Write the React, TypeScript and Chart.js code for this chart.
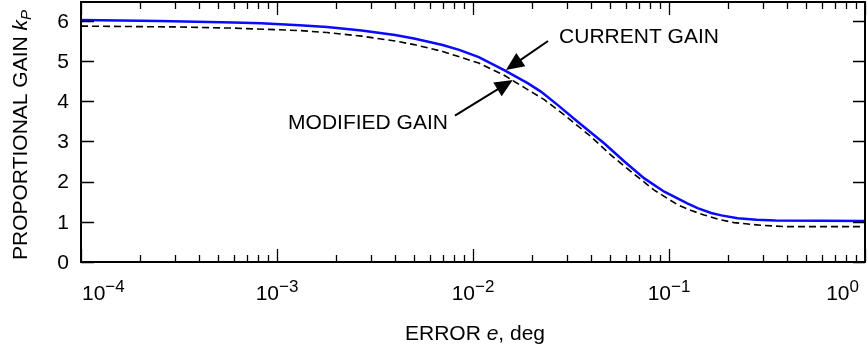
import React, { useEffect, useRef } from 'react';
import { Chart, registerables } from 'chart.js';

Chart.register(...registerables);

// ---- data ----
const currentErr = [1e-4, 2.5e-4, 6e-4, 8.3e-4, 1.3e-3, 1.8e-3, 2.7e-3, 4e-3, 5e-3, 7e-3, 8.5e-3, 1.07e-2, 1.45e-2, 1.9e-2, 2.22e-2, 2.7e-2, 3.42e-2, 4.68e-2, 5.92e-2, 7.48e-2, 9.46e-2, 1.24e-1, 1.4e-1, 1.64e-1, 1.85e-1, 2.24e-1, 2.8e-1, 3.5e-1, 1];
const currentGain = [6.02, 6.0, 5.96, 5.94, 5.89, 5.85, 5.76, 5.65, 5.56, 5.4, 5.28, 5.1, 4.77, 4.45, 4.24, 3.91, 3.49, 2.95, 2.5, 2.08, 1.75, 1.46, 1.34, 1.22, 1.16, 1.09, 1.05, 1.03, 1.02];

const modifiedErr = [1e-4, 3e-4, 6e-4, 1.3e-3, 1.8e-3, 2.7e-3, 4e-3, 5e-3, 7e-3, 8.7e-3, 1.07e-2, 1.45e-2, 1.9e-2, 2.31e-2, 2.92e-2, 4e-2, 5.06e-2, 6.4e-2, 8.4e-2, 1.11e-1, 1.3e-1, 1.51e-1, 1.8e-1, 2.15e-1, 3e-1, 4e-1, 1];
const modifiedGain = [5.87, 5.85, 5.82, 5.76, 5.71, 5.62, 5.5, 5.41, 5.24, 5.09, 4.95, 4.64, 4.29, 4.04, 3.66, 3.12, 2.66, 2.25, 1.79, 1.42, 1.28, 1.17, 1.06, 0.98, 0.91, 0.88, 0.88];

const yTickValues = [0, 1, 2, 3, 4, 5, 6];
const xMajorValues = [1e-4, 1e-3, 1e-2, 1e-1, 1];
const xMajorExponents = ['\u22124', '\u22123', '\u22122', '\u22121', '0'];
const xMinorMultipliers = [2, 3, 4, 5, 6, 7, 8, 9];

const xTitleParts = ['ERROR ', 'e', ', deg'];
const yTitleParts = ['PROPORTIONAL GAIN ', 'k', 'P'];

const currentLabel = { text: 'CURRENT GAIN', x: 0.0275, y: 5.45 };
const currentArrowTail = { x: 0.02415, y: 5.5 };
const currentArrowTip = { x: 0.01473, y: 4.78 };
const modifiedLabel = { text: 'MODIFIED GAIN', x: 0.00745, y: 3.3 };
const modifiedArrowTail = { x: 0.00809, y: 3.64 };
const modifiedArrowTip = { x: 0.01596, y: 4.53 };

const FONT = '"Liberation Sans", Arial, Helvetica, sans-serif';

function drawArrow(ctx: CanvasRenderingContext2D, x0: number, y0: number, x1: number, y1: number) {
  const dx = x1 - x0;
  const dy = y1 - y0;
  const len = Math.sqrt(dx * dx + dy * dy);
  const ux = dx / len;
  const uy = dy / len;
  const headLen = 18;
  const headHalf = 8;
  const bx = x1 - ux * headLen;
  const by = y1 - uy * headLen;
  ctx.save();
  ctx.strokeStyle = '#000';
  ctx.fillStyle = '#000';
  ctx.lineWidth = 2;
  ctx.beginPath();
  ctx.moveTo(x0, y0);
  ctx.lineTo(bx + ux * 2, by + uy * 2);
  ctx.stroke();
  ctx.beginPath();
  ctx.moveTo(x1, y1);
  ctx.lineTo(bx - uy * headHalf, by + ux * headHalf);
  ctx.lineTo(bx + uy * headHalf, by - ux * headHalf);
  ctx.closePath();
  ctx.fill();
  ctx.restore();
}

const framePlugin = {
  id: 'framePlugin',
  afterDraw(chart: any) {
    const ctx: CanvasRenderingContext2D = chart.ctx;
    const { left, right, top, bottom } = chart.chartArea;
    const xs = chart.scales.x;
    const ys = chart.scales.y;
    ctx.save();
    ctx.strokeStyle = '#000';
    ctx.lineWidth = 2;
    ctx.strokeRect(left, top, right - left, bottom - top);

    // x ticks (inward, top & bottom)
    ctx.lineWidth = 1.3;
    ctx.beginPath();
    xMajorValues.forEach((v, i) => {
      const px = Math.round(xs.getPixelForValue(v)) + 0.5;
      ctx.moveTo(px, bottom);
      ctx.lineTo(px, bottom - 13);
      ctx.moveTo(px, top);
      ctx.lineTo(px, top + 13);
      if (i < xMajorValues.length - 1) {
        xMinorMultipliers.forEach((m) => {
          const p = Math.round(xs.getPixelForValue(v * m)) + 0.5;
          ctx.moveTo(p, bottom);
          ctx.lineTo(p, bottom - 7);
          ctx.moveTo(p, top);
          ctx.lineTo(p, top + 7);
        });
      }
    });
    // y ticks (inward, left & right)
    yTickValues.forEach((v) => {
      const py = Math.round(ys.getPixelForValue(v)) + 0.5;
      ctx.moveTo(left, py);
      ctx.lineTo(left + 13, py);
      ctx.moveTo(right, py);
      ctx.lineTo(right - 12, py);
    });
    ctx.stroke();

    // y tick labels
    ctx.fillStyle = '#000';
    ctx.font = `21px ${FONT}`;
    ctx.textAlign = 'right';
    ctx.textBaseline = 'middle';
    yTickValues.forEach((v) => {
      ctx.fillText(String(v), left - 12, ys.getPixelForValue(v) + 1);
    });

    // x tick labels: 10^n
    ctx.textBaseline = 'alphabetic';
    ctx.textAlign = 'left';
    const baseY = bottom + 38;
    xMajorValues.forEach((v, i) => {
      const px = xs.getPixelForValue(v);
      ctx.font = `21px ${FONT}`;
      const w1 = ctx.measureText('10').width;
      ctx.font = `17px ${FONT}`;
      const w2 = ctx.measureText(xMajorExponents[i]).width;
      const total = w1 + w2;
      let x0 = px - total / 2;
      if (x0 < left) x0 = left + 1;
      if (x0 + total > right - 6) x0 = right - 6 - total;
      ctx.font = `21px ${FONT}`;
      ctx.fillText('10', x0, baseY);
      ctx.font = `17px ${FONT}`;
      ctx.fillText(xMajorExponents[i], x0 + w1, baseY - 8);
    });

    // x title
    ctx.font = `21px ${FONT}`;
    const a = ctx.measureText(xTitleParts[0]).width;
    ctx.font = `italic 21px ${FONT}`;
    const b = ctx.measureText(xTitleParts[1]).width;
    ctx.font = `21px ${FONT}`;
    const c = ctx.measureText(xTitleParts[2]).width;
    const cx = (left + right) / 2 + 2;
    let tx = cx - (a + b + c) / 2;
    const ty = bottom + 78;
    ctx.fillText(xTitleParts[0], tx, ty);
    tx += a;
    ctx.font = `italic 21px ${FONT}`;
    ctx.fillText(xTitleParts[1], tx, ty);
    tx += b;
    ctx.font = `21px ${FONT}`;
    ctx.fillText(xTitleParts[2], tx, ty);

    // y title (rotated)
    ctx.save();
    ctx.translate(27, bottom - 2);
    ctx.rotate(-Math.PI / 2);
    ctx.font = `21px ${FONT}`;
    ctx.fillText(yTitleParts[0], 0, 0);
    let yx = ctx.measureText(yTitleParts[0]).width;
    ctx.font = `italic 21px ${FONT}`;
    ctx.fillText(yTitleParts[1], yx, 0);
    yx += ctx.measureText(yTitleParts[1]).width;
    ctx.font = `italic 15px ${FONT}`;
    ctx.fillText(yTitleParts[2], yx, 4);
    ctx.restore();

    // annotations
    ctx.font = `21px ${FONT}`;
    ctx.textAlign = 'left';
    ctx.fillText(currentLabel.text, xs.getPixelForValue(currentLabel.x), ys.getPixelForValue(currentLabel.y));
    ctx.textAlign = 'right';
    ctx.fillText(modifiedLabel.text, xs.getPixelForValue(modifiedLabel.x), ys.getPixelForValue(modifiedLabel.y));
    drawArrow(
      ctx,
      xs.getPixelForValue(currentArrowTail.x), ys.getPixelForValue(currentArrowTail.y),
      xs.getPixelForValue(currentArrowTip.x), ys.getPixelForValue(currentArrowTip.y)
    );
    drawArrow(
      ctx,
      xs.getPixelForValue(modifiedArrowTail.x), ys.getPixelForValue(modifiedArrowTail.y),
      xs.getPixelForValue(modifiedArrowTip.x), ys.getPixelForValue(modifiedArrowTip.y)
    );
    ctx.restore();
  },
};

export default function App() {
  const canvasRef = useRef<HTMLCanvasElement | null>(null);

  useEffect(() => {
    const canvas = canvasRef.current;
    if (!canvas) return;
    const chart = new Chart(canvas, {
      type: 'line',
      data: {
        datasets: [
          {
            label: 'Current gain',
            data: currentErr.map((x, i) => ({ x, y: currentGain[i] })),
            borderColor: '#0a0aff',
            borderWidth: 2.5,
            pointRadius: 0,
            tension: 0,
            fill: false,
          },
          {
            label: 'Modified gain',
            data: modifiedErr.map((x, i) => ({ x, y: modifiedGain[i] })),
            borderColor: '#000',
            borderWidth: 1.6,
            borderDash: [7, 4],
            pointRadius: 0,
            tension: 0,
            fill: false,
          },
        ],
      },
      options: {
        responsive: false,
        animation: false,
        devicePixelRatio: 1,
        layout: { padding: { left: 81, right: 3, top: 2, bottom: 87 } },
        scales: {
          x: { type: 'logarithmic', min: 1e-4, max: 1, display: false },
          y: { type: 'linear', min: 0, max: 6.47, display: false },
        },
        plugins: {
          legend: { display: false },
          tooltip: { enabled: false },
        },
      },
      plugins: [framePlugin],
    } as any);
    return () => chart.destroy();
  }, []);

  return (
    <div style={{ position: 'fixed', left: 0, top: 0, width: 868, height: 349, background: '#fff' }}>
      <canvas ref={canvasRef} width={868} height={349} style={{ display: 'block' }} />
    </div>
  );
}
